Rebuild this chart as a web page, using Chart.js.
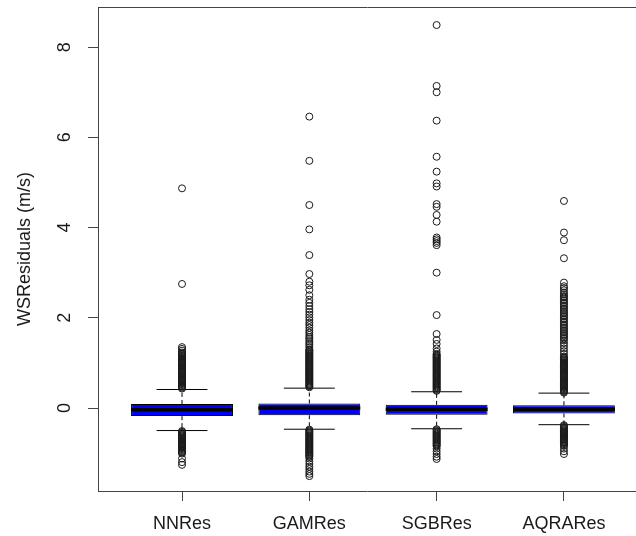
<!DOCTYPE html>
<html>
<head>
<meta charset="utf-8">
<script src="https://cdn.jsdelivr.net/npm/chart.js@4/dist/chart.umd.min.js"></script>
<style>
  html, body { margin: 0; padding: 0; background: #fff; overflow: hidden; }
  canvas { display: block; }
</style>
</head>
<body>
<canvas id="chart" width="636" height="536"></canvas>
<script>
const categories = ['NNRes', 'GAMRes', 'SGBRes', 'AQRARes'];
const yTicks = [0, 2, 4, 6, 8];

// box statistics (m/s)
const q1 = [-0.18, -0.16, -0.15, -0.12];
const median = [-0.04, 0.00, -0.03, -0.03];
const q3 = [0.09, 0.10, 0.07, 0.06];
const whiskerLow = [-0.50, -0.47, -0.46, -0.37];
const whiskerHigh = [0.41, 0.44, 0.36, 0.33];

// outliers, one list per box
const nnOutliers = [
    0.43, 0.45, 0.47, 0.49, 0.51, 0.53, 0.55, 0.57, 0.59, 0.61, 0.63, 0.65, 0.67, 0.69, 0.71,
    0.73, 0.75, 0.77, 0.79, 0.81, 0.83, 0.85, 0.87, 0.89, 0.91, 0.93, 0.95, 0.97, 0.99, 1.01,
    1.03, 1.05, 1.07, 1.09, 1.11, 1.13, 1.15, 1.17, 1.19, 1.21, 1.23, 1.27, 1.31, 1.35,
    2.75, 4.87,
    -0.51, -0.53, -0.55, -0.57, -0.59, -0.61, -0.63, -0.65, -0.67, -0.69, -0.71, -0.73, -0.75,
    -0.77, -0.79, -0.81, -0.83, -0.85, -0.87, -0.89, -0.91, -0.93, -0.95, -0.97, -0.99, -1.01,
    -1.12, -1.20, -1.26
];
const gamOutliers = [
    0.46, 0.48, 0.50, 0.52, 0.54, 0.56, 0.58, 0.60, 0.62, 0.64, 0.66, 0.68, 0.70, 0.72, 0.74,
    0.76, 0.78, 0.80, 0.82, 0.84, 0.86, 0.88, 0.90, 0.92, 0.94, 0.96, 0.98, 1.00, 1.02, 1.04,
    1.06, 1.08, 1.10, 1.12, 1.14, 1.16, 1.18, 1.20, 1.22, 1.24, 1.26, 1.28, 1.30,
    1.35, 1.40, 1.44, 1.48, 1.53, 1.57, 1.62, 1.67, 1.72, 1.78, 1.84, 1.89, 1.95, 2.01, 2.07,
    2.13, 2.19, 2.26, 2.33, 2.40, 2.50, 2.62, 2.72, 2.80, 2.97, 3.39, 3.96, 4.50, 5.48, 6.46,
    -0.48, -0.50, -0.52, -0.54, -0.56, -0.58, -0.60, -0.62, -0.64, -0.66, -0.68, -0.70, -0.72,
    -0.74, -0.76, -0.78, -0.80, -0.82, -0.84, -0.86, -0.88, -0.90, -0.92, -0.94, -0.96, -0.98,
    -1.00, -1.02, -1.04, -1.06, -1.08,
    -1.12, -1.18, -1.24, -1.30, -1.35, -1.41, -1.46, -1.51
];
const sgbOutliers = [
    0.38, 0.40, 0.42, 0.44, 0.46, 0.48, 0.50, 0.52, 0.54, 0.56, 0.58, 0.60, 0.62, 0.64, 0.66,
    0.68, 0.70, 0.72, 0.74, 0.76, 0.78, 0.80, 0.82, 0.84, 0.86, 0.88, 0.90, 0.92, 0.94, 0.96,
    0.98, 1.00, 1.02, 1.04, 1.06, 1.08, 1.10, 1.12, 1.14, 1.16, 1.18, 1.20,
    1.25, 1.32, 1.42, 1.51, 1.64, 2.06, 3.00, 3.61, 3.66, 3.70, 3.74, 3.78, 4.13, 4.28, 4.46,
    4.52, 4.91, 4.98, 5.24, 5.57, 6.37, 7.00, 7.14, 8.49,
    -0.47, -0.49, -0.51, -0.53, -0.55, -0.57, -0.59, -0.61, -0.63, -0.65, -0.67, -0.69, -0.71,
    -0.73, -0.75, -0.77, -0.79, -0.81, -0.83, -0.85,
    -0.90, -0.96, -1.02, -1.08, -1.13
];
const aqraOutliers = [
    0.34, 0.36, 0.38, 0.40, 0.42, 0.44, 0.46, 0.48, 0.50, 0.52, 0.54, 0.56, 0.58, 0.60, 0.62,
    0.64, 0.66, 0.68, 0.70, 0.72, 0.74, 0.76, 0.78, 0.80, 0.82, 0.84, 0.86, 0.88, 0.90, 0.92,
    0.94, 0.96, 0.98, 1.00, 1.02, 1.04, 1.06, 1.08, 1.10, 1.12, 1.14,
    1.20, 1.26, 1.32, 1.38, 1.44, 1.50, 1.54, 1.57, 1.61, 1.64, 1.68, 1.71, 1.75, 1.78, 1.82,
    1.85, 1.89, 1.92, 1.96, 1.99, 2.03, 2.06, 2.10, 2.13, 2.17, 2.20, 2.24, 2.27, 2.31, 2.34,
    2.38, 2.41, 2.45, 2.48, 2.52, 2.56, 2.61, 2.66, 2.70, 2.78, 3.32, 3.72, 3.89, 4.59,
    -0.38, -0.40, -0.42, -0.44, -0.46, -0.48, -0.50, -0.52, -0.54, -0.56, -0.58, -0.60, -0.62,
    -0.64, -0.66, -0.68, -0.70, -0.72, -0.74, -0.76, -0.78, -0.80, -0.82, -0.84,
    -0.90, -0.96, -1.02
];

const BOX_HALF = 0.4;     // R boxwex 0.8
const STAPLE_HALF = 0.2;  // staplewex 0.5
const INK = '#1a1a1a';
const AXIS = '#444';
const FONT = { family: "'Liberation Sans', Arial, sans-serif", size: 18 };

// line segments separated by gaps
function segments(list) {
    const out = [];
    list.forEach(([x0, y0, x1, y1]) => {
        out.push({ x: x0, y: y0 }, { x: x1, y: y1 }, { x: x1, y: null });
    });
    return out;
}

const pos = categories.map((c, i) => i + 1);

const boxData = pos.map((x, i) => ({ x, y: [q1[i], q3[i]] }));
const medianData = segments(pos.map((x, i) => [x - BOX_HALF, median[i], x + BOX_HALF, median[i]]));
const whiskerData = segments(pos.flatMap((x, i) => [
    [x, q3[i], x, whiskerHigh[i]],
    [x, q1[i], x, whiskerLow[i]]
]));
const stapleData = segments(pos.flatMap((x, i) => [
    [x - STAPLE_HALF, whiskerHigh[i], x + STAPLE_HALF, whiskerHigh[i]],
    [x - STAPLE_HALF, whiskerLow[i], x + STAPLE_HALF, whiskerLow[i]]
]));
const outlierData = [nnOutliers, gamOutliers, sgbOutliers, aqraOutliers]
    .flatMap((arr, i) => arr.map(v => ({ x: pos[i], y: v })));

const topFrame = {
    id: 'topFrame',
    afterDraw(chart) {
        const { ctx, chartArea } = chart;
        ctx.save();
        ctx.strokeStyle = AXIS;
        ctx.lineWidth = 1;
        ctx.beginPath();
        ctx.moveTo(chartArea.left, chartArea.top + 0.5);
        ctx.lineTo(chartArea.right + 10, chartArea.top + 0.5);
        ctx.stroke();
        ctx.restore();
    }
};

new Chart(document.getElementById('chart'), {
    type: 'bar',
    plugins: [topFrame],
    data: {
        datasets: [
            {
                type: 'line',
                data: outlierData,
                showLine: false,
                pointStyle: 'circle',
                pointRadius: 3.5,
                pointBorderWidth: 1,
                pointBorderColor: INK,
                pointBackgroundColor: 'rgba(0,0,0,0)',
                order: 0
            },
            {
                type: 'line',
                data: medianData,
                borderColor: '#000',
                borderWidth: 3.5,
                borderCapStyle: 'butt',
                pointRadius: 0,
                spanGaps: false,
                order: 1
            },
            {
                type: 'bar',
                data: boxData,
                backgroundColor: '#0000ff',
                borderColor: '#000',
                borderWidth: 1,
                borderSkipped: false,
                grouped: false,
                barPercentage: 0.8,
                categoryPercentage: 1,
                order: 2
            },
            {
                type: 'line',
                data: whiskerData,
                borderColor: '#000',
                borderWidth: 1,
                borderDash: [4, 3],
                pointRadius: 0,
                spanGaps: false,
                order: 3
            },
            {
                type: 'line',
                data: stapleData,
                borderColor: '#000',
                borderWidth: 1,
                pointRadius: 0,
                spanGaps: false,
                order: 3
            }
        ]
    },
    options: {
        responsive: false,
        animation: false,
        events: [],
        layout: { autoPadding: false, padding: { top: 7, right: 0, left: 0, bottom: 0 } },
        plugins: {
            legend: { display: false },
            tooltip: { enabled: false }
        },
        scales: {
            x: {
                type: 'linear',
                min: 0.34,
                max: 4.566,
                offset: false,
                afterFit: s => {
                    s.height = 45;
                    s.paddingLeft = 0;
                    s.paddingRight = 0;
                },
                afterBuildTicks: s => { s.ticks = pos.map(v => ({ value: v })); },
                ticks: {
                    callback: v => categories[v - 1],
                    font: FONT,
                    color: INK,
                    padding: 12,
                    maxRotation: 0,
                    autoSkip: false
                },
                grid: { offset: false, drawOnChartArea: false, drawTicks: true, tickLength: 10, color: AXIS },
                border: { display: true, color: AXIS }
            },
            y: {
                min: -1.84,
                max: 8.89,
                afterFit: s => {
                    s.width = 98;
                    s.paddingTop = 0;
                    s.paddingBottom = 0;
                },
                afterBuildTicks: s => { s.ticks = yTicks.map(v => ({ value: v })); },
                ticks: {
                    minRotation: 90,
                    maxRotation: 90,
                    crossAlign: 'center',
                    padding: 18,
                    font: FONT,
                    color: INK
                },
                grid: { drawOnChartArea: false, drawTicks: true, tickLength: 10, color: AXIS },
                border: { display: true, color: AXIS },
                title: {
                    display: true,
                    text: 'WSResiduals (m/s)',
                    font: FONT,
                    color: INK,
                    padding: { top: 14, bottom: 0 }
                }
            }
        }
    }
});
</script>
</body>
</html>
